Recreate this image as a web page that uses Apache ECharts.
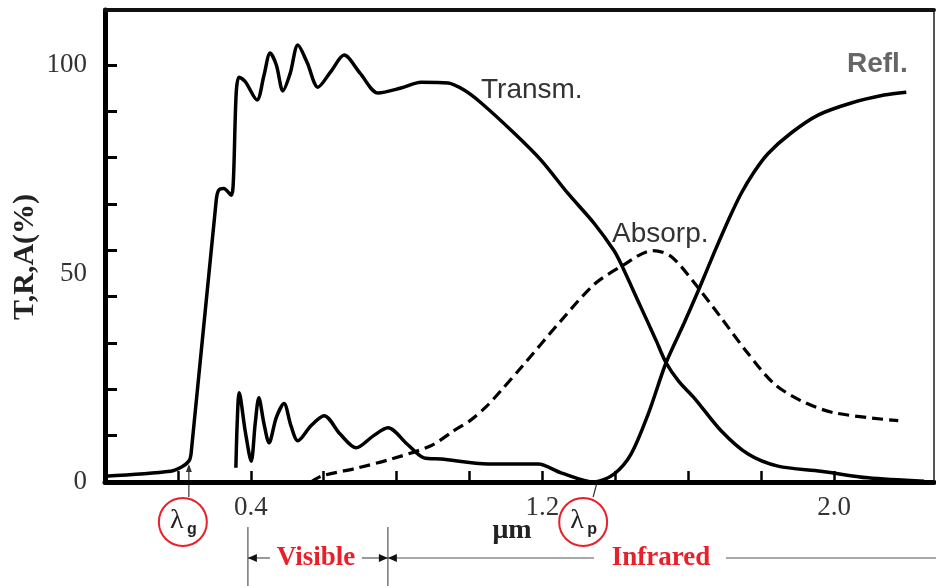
<!DOCTYPE html>
<html>
<head>
<meta charset="utf-8">
<script src="https://cdn.jsdelivr.net/npm/echarts@6/dist/echarts.min.js"></script>
<style>html,body{margin:0;padding:0;background:#fff}#main{width:936px;height:586px}</style>
</head>
<body>
<div id="main"></div>
<script>
// Wavelength (µm) vs percentage values
const transmission = [
  [0.00, 1.4], [0.18, 2.6], [0.21, 3.6], [0.23, 5.0], [0.236, 6.7],
  [0.305, 67.5], [0.312, 70.0], [0.326, 70.4], [0.346, 68.8], [0.352, 72.0],
  [0.360, 93.5], [0.368, 97.1], [0.385, 96.0], [0.417, 91.6], [0.436, 97.5],
  [0.453, 102.9], [0.470, 100.0], [0.488, 93.8], [0.508, 98.0], [0.529, 104.8],
  [0.555, 100.5], [0.584, 94.7], [0.620, 98.5], [0.656, 102.4], [0.700, 98.0],
  [0.749, 93.3], [0.812, 94.5], [0.867, 95.9], [0.941, 95.7], [0.985, 94.0],
  [1.032, 90.9], [1.122, 83.7], [1.196, 77.2], [1.270, 69.2], [1.342, 62.0],
  [1.396, 55.5], [1.416, 52.2], [1.468, 42.3], [1.512, 33.9], [1.539, 28.6],
  [1.575, 24.0], [1.616, 20.2], [1.690, 12.3], [1.764, 6.7], [1.846, 3.8],
  [1.964, 2.6], [2.093, 1.0], [2.247, 0.2]
];
const reflection = [
  [0.359, 3.4], [0.363, 15.0], [0.368, 21.4], [0.385, 12.0], [0.401, 5.0],
  [0.412, 14.0], [0.422, 20.2], [0.436, 14.0], [0.450, 9.4], [0.470, 15.5],
  [0.491, 18.8], [0.510, 13.5], [0.529, 9.9], [0.565, 13.5], [0.601, 15.9],
  [0.645, 11.5], [0.689, 8.2], [0.735, 11.0], [0.776, 13.0], [0.830, 9.0],
  [0.875, 5.8], [0.922, 5.5], [1.051, 4.3], [1.188, 4.3], [1.251, 2.2],
  [1.342, 0.0], [1.396, 1.9], [1.443, 6.7], [1.490, 16.3], [1.539, 28.6],
  [1.588, 38.0], [1.630, 46.4], [1.671, 55.0], [1.712, 63.2], [1.745, 69.2],
  [1.780, 74.3], [1.819, 78.8], [1.882, 83.7], [1.956, 88.0], [2.047, 90.9],
  [2.137, 92.8], [2.198, 93.5]
];
const absorption = [
  [0.565, 0.0], [0.593, 1.4], [0.694, 3.4], [0.785, 5.5], [0.894, 8.7],
  [0.957, 12.3], [1.004, 14.9], [1.045, 18.0], [1.086, 21.9], [1.141, 27.4],
  [1.251, 38.7], [1.342, 47.4], [1.416, 51.7], [1.503, 55.5], [1.553, 54.1],
  [1.627, 46.6], [1.690, 39.4], [1.764, 30.8], [1.835, 23.6], [1.909, 19.5],
  [2.000, 16.6], [2.176, 14.7]
];
const xTickValues = [0.2, 0.4, 0.6, 0.8, 1.0, 1.2, 1.4, 1.6, 1.8, 2.0];
const xLabelValues = [0.4, 1.2, 2.0];
const yTickValues = [0, 100/9, 200/9, 300/9, 400/9, 500/9, 600/9, 700/9, 800/9, 100];
const yLabelValues = [0, 50, 100];
const lambdaG = 0.23;
const lambdaP = 1.35;
const visibleRange = [0.392, 0.776];

const serif = '"Liberation Serif", "DejaVu Serif", serif';
const sans = '"Liberation Sans", Arial, sans-serif';
const red = '#e8202a';

const chart = echarts.init(document.getElementById('main'));
chart.setOption({
  animation: false,
  backgroundColor: '#fff',
  grid: { left: 105, right: 2, top: 10, bottom: 104 },
  xAxis: [{
    type: 'value', min: 0, max: 2.274,
    axisLine: { onZero: false, lineStyle: { color: '#000', width: 5 } },
    axisTick: { inside: true, length: 11, lineStyle: { color: '#000', width: 2.5 }, customValues: xTickValues },
    axisLabel: { customValues: xLabelValues, margin: 12, color: '#333', fontFamily: serif, fontSize: 27,
                 formatter: v => v.toFixed(1) },
    splitLine: { show: false }
  }, {
    type: 'value', min: 0, max: 2.274, position: 'top',
    axisLine: { onZero: false, lineStyle: { color: '#111', width: 4 } },
    axisTick: { show: false }, axisLabel: { show: false }, splitLine: { show: false }
  }],
  yAxis: [{
    type: 'value', min: 0, max: 113.2,
    axisLine: { onZero: false, lineStyle: { color: '#000', width: 5 } },
    axisTick: { inside: true, length: 12, lineStyle: { color: '#000', width: 3 }, customValues: yTickValues },
    axisLabel: { customValues: yLabelValues, margin: 18, color: '#333', fontFamily: serif, fontSize: 27,
                 formatter: v => String(Math.round(v)) },
    splitLine: { show: false }
  }, {
    type: 'value', min: 0, max: 113.2, position: 'right',
    axisLine: { onZero: false, lineStyle: { color: '#555', width: 2 } },
    axisTick: { show: false }, axisLabel: { show: false }, splitLine: { show: false }
  }],
  series: [{
    name: 'Transm.', type: 'line', data: transmission, showSymbol: false, smooth: 0.3,
    lineStyle: { color: '#000', width: 3.5 }, z: 3
  }, {
    name: 'Refl.', type: 'line', data: reflection, showSymbol: false, smooth: 0.3,
    lineStyle: { color: '#000', width: 3.5 }, z: 3
  }, {
    name: 'Absorp.', type: 'line', data: absorption, showSymbol: false, smooth: 0.3,
    lineStyle: { color: '#000', width: 3.2, type: [11, 6] }, z: 2
  }]
});

const px = v => chart.convertToPixel({ xAxisIndex: 0 }, v);
const axisY = chart.convertToPixel({ yAxisIndex: 0 }, 0);
const gx = px(lambdaG), pxP = px(lambdaP);
const v0 = px(visibleRange[0]), v1 = px(visibleRange[1]);
const rowY = 558;
const lineStyle = { stroke: '#555', lineWidth: 1.2 };
const arrow = (x, dir) => ({ type: 'polygon', shape: { points: [[x, rowY], [x - dir * 9, rowY - 4], [x - dir * 9, rowY + 4]] }, style: { fill: '#111' } });
const cG = [gx - 6, 522], cP = [pxP - 14, 522];

chart.setOption({
  graphic: [
    { type: 'text', x: 25, y: 257, rotation: Math.PI / 2, style: { text: 'T,R,A(%)', font: 'bold 30px ' + serif, fill: '#222', align: 'center', verticalAlign: 'middle' } },
    { type: 'text', x: 512, y: 531, style: { text: 'μm', font: 'bold 28px ' + serif, fill: '#222', align: 'center', verticalAlign: 'middle' } },
    { type: 'text', x: 481, y: 90, style: { text: 'Transm.', font: '28px ' + sans, fill: '#333', align: 'left', verticalAlign: 'middle' } },
    { type: 'text', x: 612, y: 234, style: { text: 'Absorp.', font: '28px ' + sans, fill: '#333', align: 'left', verticalAlign: 'middle' } },
    { type: 'text', x: 847, y: 64, style: { text: 'Refl.', font: 'bold 28px ' + sans, fill: '#666', align: 'left', verticalAlign: 'middle' } },
    // lambda g marker
    { type: 'line', shape: { x1: gx, y1: axisY - 16, x2: gx, y2: 497 }, style: { stroke: '#333', lineWidth: 1.2 } },
    { type: 'polygon', shape: { points: [[gx, axisY - 18], [gx - 3, axisY - 10], [gx + 3, axisY - 10]] }, style: { fill: '#333' } },
    { type: 'circle', shape: { cx: cG[0], cy: cG[1], r: 24 }, style: { stroke: red, lineWidth: 2, fill: '#fff' } },
    { type: 'text', x: cG[0] - 6, y: cG[1] - 1, style: { text: 'λ', font: '28px ' + serif, fill: '#222', align: 'center', verticalAlign: 'middle' } },
    { type: 'text', x: cG[0] + 9, y: cG[1] + 8, style: { text: 'g', font: 'bold 16px ' + sans, fill: '#222', align: 'center', verticalAlign: 'middle' } },
    // lambda p marker
    { type: 'line', shape: { x1: pxP, y1: axisY, x2: pxP - 4, y2: 497 }, style: { stroke: '#333', lineWidth: 1.2 } },
    { type: 'circle', shape: { cx: cP[0], cy: cP[1], r: 24 }, style: { stroke: red, lineWidth: 2, fill: '#fff' } },
    { type: 'text', x: cP[0] - 6, y: cP[1] - 1, style: { text: 'λ', font: '28px ' + serif, fill: '#222', align: 'center', verticalAlign: 'middle' } },
    { type: 'text', x: cP[0] + 9, y: cP[1] + 8, style: { text: 'p', font: 'bold 16px ' + sans, fill: '#222', align: 'center', verticalAlign: 'middle' } },
    // visible / infrared ranges
    { type: 'line', shape: { x1: v0, y1: 527, x2: v0, y2: 586 }, style: lineStyle },
    { type: 'line', shape: { x1: v1, y1: 527, x2: v1, y2: 586 }, style: lineStyle },
    { type: 'line', shape: { x1: v0, y1: rowY, x2: v0 + 22, y2: rowY }, style: lineStyle },
    { type: 'line', shape: { x1: v1 - 26, y1: rowY, x2: v1, y2: rowY }, style: lineStyle },
    arrow(v0, -1), arrow(v1, 1),
    { type: 'text', x: (v0 + v1) / 2 - 2, y: rowY, style: { text: 'Visible', font: 'bold 27px ' + serif, fill: red, align: 'center', verticalAlign: 'middle' } },
    { type: 'line', shape: { x1: v1, y1: rowY, x2: 594, y2: rowY }, style: lineStyle },
    arrow(v1, -1),
    { type: 'text', x: 661, y: rowY, style: { text: 'Infrared', font: 'bold 27px ' + serif, fill: red, align: 'center', verticalAlign: 'middle' } },
    { type: 'line', shape: { x1: 726, y1: rowY, x2: 936, y2: rowY }, style: lineStyle }
  ]
});
</script>
</body>
</html>
